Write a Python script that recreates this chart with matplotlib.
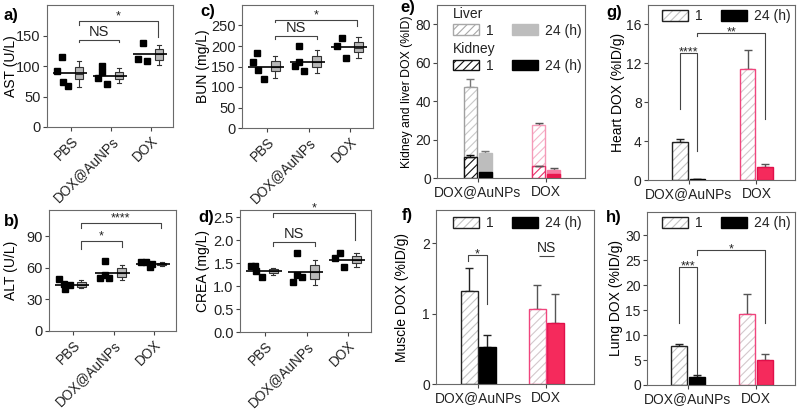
import numpy as np
import matplotlib
matplotlib.use('Agg')
import matplotlib.pyplot as plt
from matplotlib.patches import Patch
from matplotlib.legend_handler import HandlerTuple

plt.rcParams['font.family'] = ['Liberation Sans', 'DejaVu Sans']
plt.rcParams['font.size'] = 10
plt.rcParams['hatch.linewidth'] = 0.8
plt.rcParams['axes.edgecolor'] = '#6a6a6a'
plt.rcParams['text.color'] = '#222222'
plt.rcParams['xtick.color'] = '#444444'
plt.rcParams['ytick.color'] = '#444444'
plt.rcParams['xtick.labelcolor'] = '#222222'
plt.rcParams['ytick.labelcolor'] = '#222222'

W, H = 800, 412

# ---- blood chemistry (a-d) ----
groups = ['PBS', 'DOX@AuNPs', 'DOX']

ast_pts = [[115, 92, 74, 67], [100, 90, 80, 70], [138, 112, 109]]
ast_mean = [88, 84, 120]
ast_box = [(78, 87, 98, 65, 108), (78, 84, 90, 72, 97), (110, 119, 128, 102, 135)]

alt_pts = [[45, 49, 40, 44], [67, 53, 50, 50], [66, 66, 61, 64]]
alt_mean = [44, 55, 64]
alt_box = [(42, 44, 47, 41, 48), (51, 55, 60, 48, 63), (63, 64, 65, 62, 66)]

bun_pts = [[182, 162, 141, 120], [200, 162, 151, 140], [220, 200, 170]]
bun_mean = [150, 162, 197]
bun_box = [(140, 150, 163, 123, 176), (150, 160, 175, 135, 190), (185, 196, 210, 170, 222)]

crea_pts = [[1.43, 1.43, 1.33, 1.21], [1.72, 1.25, 1.10, 1.20], [1.72, 1.61, 1.41]]
crea_mean = [1.33, 1.30, 1.57]
crea_box = [(1.29, 1.33, 1.37, 1.24, 1.40), (1.15, 1.30, 1.45, 1.03, 1.58), (1.50, 1.56, 1.65, 1.42, 1.72)]

# ---- biodistribution (e-h) ----
treat = ['DOX@AuNPs', 'DOX']
liver_1h, liver_1h_err = [47.5, 27.5], [4.0, 1.2]
liver_24h, liver_24h_err = [13.0, 4.3], [1.2, 1.0]
kidney_1h, kidney_1h_err = [11.0, 6.0], [0.8, 0.5]
kidney_24h, kidney_24h_err = [3.0, 2.2], [0.0, 0.0]

muscle_1h, muscle_1h_err = [1.32, 1.07], [0.33, 0.33]
muscle_24h, muscle_24h_err = [0.53, 0.86], [0.17, 0.42]
heart_1h, heart_1h_err = [3.9, 11.4], [0.3, 2.0]
heart_24h, heart_24h_err = [0.1, 1.3], [0.02, 0.3]
lung_1h, lung_1h_err = [7.8, 14.2], [0.5, 4.0]
lung_24h, lung_24h_err = [1.7, 5.1], [0.4, 1.1]


def rect(l, t, r, b):
    return [l / W, 1 - b / H, (r - l) / W, (b - t) / H]


def add_ax(l, t, r, b, label_right, label_y=0.5):
    ax = fig.add_axes(rect(l, t, r, b))
    ax.yaxis.set_label_coords((label_right - l) / (r - l), label_y)
    return ax


fig = plt.figure(figsize=(8, 4.12), dpi=100)

JIT = [[-0.23, -0.34, -0.21, -0.08], [-0.22, -0.22, -0.33, -0.1], [-0.2, -0.32, -0.1, -0.05]]


def bracket(ax, x1, x2, y, y1, y2, txt, fs=9, dy=0.0):
    ax.plot([x1, x1, x2, x2], [y1, y, y, y2], color='#444444', lw=0.8, clip_on=False)
    ax.text((x1 + x2) / 2, y + dy, txt, ha='center', va='bottom', fontsize=fs)


def blood(ax, pts, means, boxes, ylim, yticks, ylabel):
    for i, p in enumerate(pts):
        ax.plot(i + np.array(JIT[i][:len(p)]), p, 's', color='black', ms=5, zorder=3)
        ax.hlines(means[i], i - 0.45, i + 0.4, color='black', lw=1.2, zorder=4)
    stats = [dict(q1=b[0], med=b[1], q3=b[2], whislo=b[3], whishi=b[4], fliers=[])
             for b in boxes]
    ax.bxp(stats, positions=[0.2, 1.2, 2.2], widths=0.22, patch_artist=True,
           showfliers=False,
           boxprops=dict(facecolor='#b8b8b8', edgecolor='#333333', lw=0.8),
           medianprops=dict(color='#333333', lw=0.8),
           whiskerprops=dict(color='#333333', lw=0.8),
           capprops=dict(color='#333333', lw=0.8), capwidths=0.1)
    ax.set_xlim(-0.6, 2.55)
    ax.set_ylim(*ylim)
    ax.set_yticks(yticks)
    ax.set_xticks([0, 1, 2])
    ax.set_xticklabels(groups, rotation=45, ha='right', rotation_mode='anchor', fontsize=9.8)
    ax.set_ylabel(ylabel, fontsize=10)
    ax.tick_params(length=3, width=0.8, labelsize=10.5, pad=1.5)
    ax.tick_params(axis='x', labelsize=9.8, pad=2)


ax_a = add_ax(47, 5, 173, 127, 18)
blood(ax_a, ast_pts, ast_mean, ast_box, (0, 200), [0, 50, 100, 150], 'AST (U/L)')
bracket(ax_a, 0.2, 2.17, 174, 168, 148, '*', dy=-2)
bracket(ax_a, 0.2, 1.2, 143, 139, 139, 'NS', fs=10.5, dy=2)

ax_b = add_ax(49, 210, 176, 331, 18)
blood(ax_b, alt_pts, alt_mean, alt_box, (0, 115), [0, 30, 60, 90], 'ALT (U/L)')
bracket(ax_b, 0.2, 2.17, 103, 98, 98, '****', dy=-1.5)
bracket(ax_b, 0.2, 1.2, 86, 78, 80, '*', dy=-1.5)

ax_c = add_ax(242, 5, 373, 128, 210)
blood(ax_c, bun_pts, bun_mean, bun_box, (0, 300), [0, 50, 100, 150, 200, 250], 'BUN (mg/L)')
bracket(ax_c, 0.2, 2.17, 264, 258, 248, '*', dy=-3)
bracket(ax_c, 0.2, 1.2, 225, 218, 218, 'NS', fs=10.5, dy=2)

ax_d = add_ax(240, 210, 371, 332, 210)
blood(ax_d, crea_pts, crea_mean, crea_box, (0, 2.66), [0, 0.5, 1.0, 1.5, 2.0, 2.5], 'CREA (mg/L)')
ax_d.set_yticklabels(['0.0', '0.5', '1.0', '1.5', '2.0', '2.5'])
bracket(ax_d, 0.2, 2.17, 2.59, 2.5, 2.0, '*', dy=-0.03)
bracket(ax_d, 0.2, 1.2, 1.97, 1.88, 1.88, 'NS', fs=10.5, dy=0.02)

# ---- bar panels ----
DARK = '#222222'
PINK_EDGE = '#f0457d'
RED = '#f52a5c'


def hbar(ax, x, h, w, hatch_col, edge_col, face='white', lw=1.0, hatch='////', z=2):
    ax.bar(x, h, w, color=face, edgecolor=hatch_col, hatch=hatch, lw=0, zorder=z)
    ax.bar(x, h, w, fill=False, edgecolor=edge_col, lw=lw, zorder=z + 0.1)


def sbar(ax, x, h, w, face, edge_col, lw=1.0, z=2):
    ax.bar(x, h, w, color=face, edgecolor=edge_col, lw=lw, zorder=z)


def err(ax, x, v, e, col, z=1.5):
    ax.errorbar(x, v, yerr=[[0], [e]], fmt='none', ecolor=col, elinewidth=1.0,
                capsize=3, capthick=1.0, zorder=z)


def bar_axes(ax, ylim, yticks, ylabel, xlim=(-0.6, 1.57), yfs=10):
    ax.set_xlim(*xlim)
    ax.set_ylim(*ylim)
    ax.set_yticks(yticks)
    ax.set_xticks([0, 1])
    ax.set_xticklabels(treat, fontsize=10)
    ax.set_ylabel(ylabel, fontsize=yfs)
    ax.tick_params(length=3, width=0.8, labelsize=10, pad=1.5)
    ax.tick_params(axis='x', labelsize=10, pad=2)


LEG = dict(ncol=2, loc='upper left', frameon=False, handlelength=1.9, handleheight=0.8,
           columnspacing=1.3, handletextpad=0.5, borderaxespad=0, borderpad=0,
           fontsize=10, title_fontsize=10, alignment='left', labelspacing=0.2)


def pair_legend(ax, anchor):
    h1 = (Patch(facecolor='white', edgecolor='#c4c4c4', hatch='////', lw=0),
          Patch(facecolor='none', edgecolor=DARK, lw=1.0))
    h2 = Patch(facecolor='black', edgecolor='black')
    ax.legend([h1, h2], ['1', '24 (h)'], bbox_to_anchor=anchor,
              handler_map={tuple: HandlerTuple(ndivide=1)}, **LEG)


def organ(ax, v1, e1, v24, e24, off=0.13, w=0.23):
    x = np.arange(2)
    hbar(ax, x[0] - off, v1[0], w, '#c4c4c4', DARK)
    err(ax, x[0] - off, v1[0], e1[0], DARK)
    sbar(ax, x[0] + off, v24[0], w, 'black', 'black')
    err(ax, x[0] + off, v24[0], e24[0], DARK)
    hbar(ax, x[1] - off, v1[1], w, '#d4c8cc', PINK_EDGE)
    err(ax, x[1] - off, v1[1], e1[1], '#555555')
    sbar(ax, x[1] + off, v24[1], w, RED, '#e0104a')
    err(ax, x[1] + off, v24[1], e24[1], '#555555')


# e) kidney and liver
ax_e = add_ax(437, 5, 585, 178, 413, label_y=0.43)
x = np.arange(2)
o, w = 0.11, 0.2
hbar(ax_e, x[0] - o, liver_1h[0], w, '#c8c8c8', '#a0a0a0')
err(ax_e, x[0] - o, liver_1h[0], liver_1h_err[0], '#777777')
hbar(ax_e, x[0] - o, kidney_1h[0], w, '#111111', '#111111', z=3)
err(ax_e, x[0] - o, kidney_1h[0], kidney_1h_err[0], '#111111', z=3.5)
sbar(ax_e, x[0] + o, liver_24h[0], w, '#bdbdbd', '#bdbdbd')
err(ax_e, x[0] + o, liver_24h[0], liver_24h_err[0], '#777777')
sbar(ax_e, x[0] + o, kidney_24h[0], w, 'black', 'black', z=3)
hbar(ax_e, x[1] - o, liver_1h[1], w, '#f5b5ca', '#f59ab8')
err(ax_e, x[1] - o, liver_1h[1], liver_1h_err[1], '#555555')
hbar(ax_e, x[1] - o, kidney_1h[1], w, '#e8306a', '#e8306a', z=3)
err(ax_e, x[1] - o, kidney_1h[1], kidney_1h_err[1], '#555555', z=3.5)
sbar(ax_e, x[1] + o, liver_24h[1], w, '#f77ba3', '#f77ba3')
err(ax_e, x[1] + o, liver_24h[1], liver_24h_err[1], '#555555')
sbar(ax_e, x[1] + o, kidney_24h[1], w, '#e8184e', '#e8184e', z=3)
bar_axes(ax_e, (0, 90), [0, 20, 40, 60, 80], 'Kidney and liver DOX (%ID)', yfs=8.8)

hl1 = Patch(facecolor='white', edgecolor='#a8a8a8', hatch='////', lw=1.0)
hl2 = Patch(facecolor='#bdbdbd', edgecolor='#bdbdbd')
hk1 = Patch(facecolor='white', edgecolor='#111111', hatch='////', lw=1.0)
hk2 = Patch(facecolor='black', edgecolor='black')
leg1 = ax_e.legend([hl1, hl2], ['1', '24 (h)'], title='Liver', bbox_to_anchor=(0.105, 0.99), **LEG)
ax_e.add_artist(leg1)
ax_e.legend([hk1, hk2], ['1', '24 (h)'], title='Kidney', bbox_to_anchor=(0.105, 0.785), **LEG)

# f) muscle
ax_f = add_ax(436, 210, 594, 384, 409)
organ(ax_f, muscle_1h, muscle_1h_err, muscle_24h, muscle_24h_err, off=0.13, w=0.25)
bar_axes(ax_f, (0, 2.47), [0, 1, 2], 'Muscle DOX (%ID/g)', xlim=(-0.62, 1.7))
pair_legend(ax_f, (0.108, 0.965))
bracket(ax_f, -0.15, 0.13, 1.83, 1.75, 1.13, '*', dy=-0.07)
ax_f.text(1.0, 1.83, 'NS', ha='center', va='bottom', fontsize=10)
ax_f.hlines(1.82, 0.89, 1.11, color='#444444', lw=0.8)

# g) heart
ax_g = add_ax(648, 5, 795, 180, 625)
organ(ax_g, heart_1h, heart_1h_err, heart_24h, heart_24h_err)
bar_axes(ax_g, (0, 18), [0, 4, 8, 12, 16], 'Heart DOX (%ID/g)')
pair_legend(ax_g, (0.095, 0.975))
bracket(ax_g, -0.13, 0.13, 13.1, 7.3, 3.0, '****', dy=-0.55)
bracket(ax_g, 0.13, 1.13, 15.1, 14.8, 6.3, '**', dy=-0.55)

# h) lung
ax_h = add_ax(647, 212, 795, 385, 623)
organ(ax_h, lung_1h, lung_1h_err, lung_24h, lung_24h_err)
bar_axes(ax_h, (0, 34.7), [0, 5, 10, 15, 20, 25, 30], 'Lung DOX (%ID/g)')
pair_legend(ax_h, (0.1, 0.975))
bracket(ax_h, -0.13, 0.13, 23.6, 12.5, 2.3, '***', dy=-1.1)
bracket(ax_h, 0.13, 1.13, 27.0, 26.0, 12.5, '*', dy=-1.1)

for lab, px, py in [('a)', 4, 20), ('b)', 4, 226), ('c)', 200, 16), ('d)', 198, 222),
                    ('e)', 400, 12), ('f)', 402, 220), ('g)', 606, 17), ('h)', 606, 222)]:
    fig.text(px / W, 1 - py / H, lab, fontsize=12, fontweight='bold', color='black')

fig.savefig('out.png', dpi=100)
